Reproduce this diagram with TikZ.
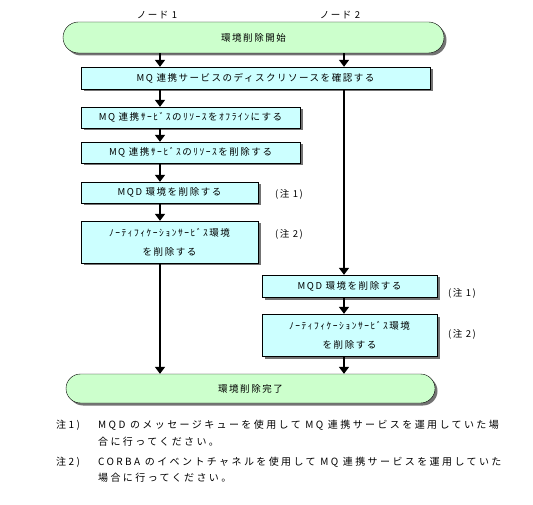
\documentclass[tikz,border=0pt]{standalone}
\usepackage{fontspec}
\usepackage{tikz}
\usetikzlibrary{arrows.meta,positioning,shapes.misc,shadows}
\newfontfamily\jpfont[LetterSpace=16]{Noto Sans CJK JP}
\newfontfamily\jpnote[LetterSpace=24]{Noto Sans CJK JP}
\definecolor{termgreen}{RGB}{204,255,204}
\definecolor{stepcyan}{RGB}{204,255,255}

\begin{document}
\begin{tikzpicture}[x=1pt,y=-1pt,>={Triangle[length=7pt,width=10pt]}, every node/.style={font=\jpfont\fontsize{9.5}{11}\selectfont,inner sep=0pt}]
    \tikzset{boxshadow/.style={drop shadow={shadow xshift=2.5pt,shadow yshift=-2.5pt,fill=black!55,opacity=1}}}
    \tikzset{term/.style={draw,fill=termgreen,rounded rectangle,boxshadow}}
    \tikzset{stepbox/.style={draw,fill=stepcyan,boxshadow,align=center}}
    \tikzset{flow/.style={->,line width=1.6pt}}
    \tikzset{notetag/.style={anchor=center}}
    \tikzset{notetext/.style={anchor=west,font=\jpnote\fontsize{10}{12}\selectfont}}

    \useasboundingbox (0,0) rectangle (533,505);

    % Nodes
    \node (lbl1) at (157,15) {ノード 1};
    \node (lbl2) at (340,15) {ノード 2};
    \node[term,minimum width=381pt,minimum height=31pt] (start) at (253.5,37.5) {環境削除開始};

    \node[stepbox,minimum width=349pt,minimum height=22pt] (check) at (255.5,78) {MQ 連携サービスのディスクリソースを確認する};

    % Node 1
    \node[stepbox,minimum width=219pt,minimum height=21pt] (offline) at (190.5,117.5) {MQ 連携ｻｰﾋﾞｽのﾘｿｰｽをｵﾌﾗｲﾝにする};
    \node[stepbox,minimum width=219pt,minimum height=21pt] (delres) at (190.5,152.5) {MQ 連携ｻｰﾋﾞｽのﾘｿｰｽを削除する};
    \node[stepbox,minimum width=177pt,minimum height=21pt] (mqdL) at (169.5,192.5) {MQD 環境を削除する};
    \node[stepbox,minimum width=177pt,minimum height=42pt] (notifL) at (169.5,242) {ﾉｰﾃｨﾌｨｹｰｼｮﾝｻｰﾋﾞｽ環境\\[8pt]を削除する};
    \node[notetag] (tagL1) at (289,194) {(注 1)};
    \node[notetag] (tagL2) at (289,234) {(注 2)};

    % Node 2
    \node[stepbox,minimum width=175pt,minimum height=22pt] (mqdR) at (349.5,286) {MQD 環境を削除する};
    \node[stepbox,minimum width=175pt,minimum height=42pt] (notifR) at (349.5,335) {ﾉｰﾃｨﾌｨｹｰｼｮﾝｻｰﾋﾞｽ環境\\[8pt]を削除する};
    \node[notetag] (tagR1) at (462,293) {(注 1)};
    \node[notetag] (tagR2) at (462,334) {(注 2)};

    \node[term,minimum width=369pt,minimum height=29pt] (done) at (250.5,388.5) {環境削除完了};

    % Flow
    \coordinate (colL) at (160,0);
    \coordinate (colR) at (344,0);
    \draw[flow] (start.south -| colL) -- (check.north -| colL);
    \draw[flow] (start.south -| colR) -- (check.north -| colR);
    \draw[flow] (check.south -| colL) -- (offline.north -| colL);
    \draw[flow] (offline.south -| colL) -- (delres.north -| colL);
    \draw[flow] (delres.south -| colL) -- (mqdL.north -| colL);
    \draw[flow] (mqdL.south -| colL) -- (notifL.north -| colL);
    \draw[flow] (notifL.south -| colL) -- (done.north -| colL);
    \draw[flow] (check.south -| colR) -- (mqdR.north -| colR);
    \draw[flow] (mqdR.south -| colR) -- (notifR.north -| colR);
    \draw[flow] (notifR.south -| colR) -- (done.north -| colR);

    % Notes
    \node[notetext] (mark1) at (56,425) {注1)};
    \node[notetext] (note1a) at (98,425) {MQD のメッセージキューを使用して MQ 連携サービスを運用していた場};
    \node[notetext] (note1b) at (98,442) {合に行ってください。};
    \node[notetext] (mark2) at (56,462) {注2)};
    \node[notetext] (note2a) at (98,462) {CORBA のイベントチャネルを使用して MQ 連携サービスを運用していた};
    \node[notetext] (note2b) at (98,478) {場合に行ってください。};
\end{tikzpicture}
\end{document}
